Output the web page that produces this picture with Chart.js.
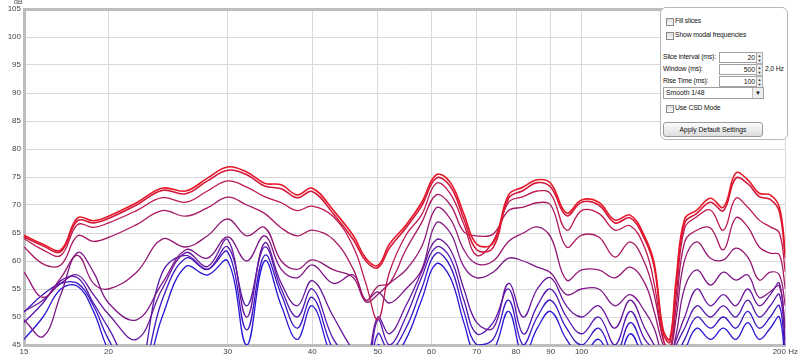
<!DOCTYPE html>
<html>
<head>
<meta charset="utf-8">
<script src="https://cdn.jsdelivr.net/npm/chart.js@4/dist/chart.umd.min.js"></script>
<style>
  body { margin: 0; background: #fff; }
  #wrap { position: relative; width: 800px; height: 357px; overflow: hidden; font-family: "Liberation Sans", Arial, sans-serif; }
  #db { position: absolute; left: 14px; top: -2px; font-size: 7px; line-height: 8px; color: #444; }
  #panel { position: absolute; left: 660px; top: 7px; width: 126px; height: 131px; border: 1px solid #b8b8b8; border-radius: 6px; background: #fff; font-size: 6.8px; color: #111; }
  #panel .cb { position: absolute; left: 5px; width: 6px; height: 6px; border: 1px solid #8a8a8a; background: linear-gradient(#ddd, #fafafa); }
  #panel .lbl { position: absolute; white-space: nowrap; letter-spacing: -0.15px; }
  #panel .inp { position: absolute; left: 58px; width: 35px; height: 9px; border: 1px solid #a0a0a0; text-align: right; line-height: 9px; padding-right: 1px; background: #fff; }
  #panel .spin { position: absolute; left: 95px; width: 5px; height: 10px; border: 1px solid #b0b0b0; background: #eee; font-size: 4px; line-height: 5px; text-align: center; color: #333; }
  #sel { position: absolute; left: 2px; top: 79px; width: 97px; height: 10px; border: 1px solid #a0a0a0; line-height: 10px; padding-left: 2px; }
  #sel .arr { position: absolute; right: 0; top: 0; width: 10px; height: 10px; border-left: 1px solid #c0c0c0; background: #eee; font-size: 6px; text-align: center; }
  #btn { position: absolute; left: 2px; top: 114px; width: 98px; height: 13px; border: 1px solid #999; border-radius: 3px; background: linear-gradient(#fdfdfd, #dcdcdc); text-align: center; line-height: 13px; }
</style>
</head>
<body>
<div id="wrap">
  <canvas id="chart" width="800" height="357"></canvas>
  <div id="db">dB</div>
  <div id="panel">
    <div class="cb" style="top:10px"></div><div class="lbl" style="left:14px;top:9px">Fill slices</div>
    <div class="cb" style="top:24px"></div><div class="lbl" style="left:14px;top:23px">Show modal frequencies</div>
    <div class="lbl" style="left:2px;top:45px">Slice interval (ms):</div>
    <div class="inp" style="top:44px">20</div><div class="spin" style="top:44px">▲<br>▼</div>
    <div class="lbl" style="left:2px;top:57px">Window (ms):</div>
    <div class="inp" style="top:56px">500</div><div class="spin" style="top:56px">▲<br>▼</div>
    <div class="lbl" style="left:104px;top:57px">2,0 Hz</div>
    <div class="lbl" style="left:2px;top:69px">Rise Time (ms):</div>
    <div class="inp" style="top:68px">100</div><div class="spin" style="top:68px">▲<br>▼</div>
    <div id="sel">Smooth 1/48<div class="arr">▼</div></div>
    <div class="cb" style="top:97px"></div><div class="lbl" style="left:14px;top:96px">Use CSD Mode</div>
    <div id="btn">Apply Default Settings</div>
  </div>
</div>
<script>
// frequency points (Hz) shared by all slices
var freqs = [15, 16, 17, 18, 19, 20, 22, 24, 26, 28, 30, 32, 34, 36, 38, 40, 43, 46, 48, 50,
  52, 55, 58, 61, 64, 67, 70, 74, 78, 82, 86, 90, 95, 100, 106, 112, 118, 124, 128, 132,
  135, 138, 142, 148, 155, 162, 169, 176, 183, 190, 196, 200];

var sliceTimes = [0, 20, 40, 60, 80, 100, 120, 140, 160, 180];

// dB per slice
var slice0 = [64.6, 63.0, 62.0, 67.7, 67.2, 68.0, 70.4, 73.0, 72.5, 74.8, 76.8, 75.9, 73.9, 73.6, 71.8, 73.0, 69.0, 64.5, 60.5, 59.2,
  63.0, 66.4, 70.4, 75.4, 74.0, 68.4, 63.0, 63.2, 71.8, 73.2, 74.5, 73.9, 68.6, 70.9, 70.5, 67.3, 68.2, 64.3, 59.6, 47.7,
  46.0, 57.0, 67.5, 69.1, 71.2, 69.6, 75.7, 74.5, 72.1, 71.8, 69.6, 61.4];
var slice1 = [64.3, 62.7, 61.7, 67.2, 66.8, 67.6, 70.0, 72.6, 72.0, 74.3, 76.2, 75.4, 73.4, 72.9, 71.3, 72.4, 68.4, 63.8, 60.0, 58.8,
  62.3, 65.9, 69.8, 74.8, 73.3, 67.5, 62.0, 62.4, 71.2, 72.6, 74.0, 73.2, 68.1, 70.5, 70.0, 66.8, 67.7, 63.8, 59.0, 47.0,
  45.5, 56.0, 66.8, 68.5, 70.5, 69.0, 74.8, 73.8, 71.5, 71.0, 68.8, 60.5];
var slice2 = [64.0, 62.0, 61.0, 66.5, 66.0, 66.8, 69.0, 71.3, 70.5, 72.5, 74.3, 73.2, 71.5, 70.4, 69.0, 69.8, 67.9, 62.5, 56.0, 49.5,
  58.0, 64.6, 68.2, 73.9, 72.0, 66.5, 61.0, 63.5, 70.5, 71.5, 72.5, 72.0, 65.5, 69.0, 68.5, 65.5, 66.3, 62.3, 56.0, 46.0,
  44.0, 54.0, 65.9, 67.9, 69.1, 65.5, 71.2, 69.6, 67.3, 66.1, 65.0, 58.0];
var slice3 = [62.5, 59.5, 59.3, 64.5, 63.5, 64.2, 66.5, 69.0, 68.0, 69.5, 71.4, 70.0, 68.5, 65.9, 64.5, 65.5, 63.8, 58.5, 53.0, 55.5,
  56.0, 62.0, 66.8, 71.8, 70.0, 65.2, 64.5, 64.8, 69.0, 69.6, 70.4, 70.0, 62.5, 64.6, 64.3, 60.7, 63.4, 59.6, 54.0, 46.0,
  44.0, 52.0, 63.4, 65.5, 65.9, 62.0, 67.7, 66.1, 62.5, 61.4, 61.1, 55.0];
var slice4 = [58.0, 53.5, 57.0, 61.0, 56.0, 55.0, 58.0, 63.9, 62.5, 64.5, 67.5, 64.5, 66.0, 60.0, 58.5, 60.2, 58.4, 57.0, 52.7, 54.0,
  56.0, 58.4, 62.5, 69.5, 67.5, 62.0, 59.5, 60.0, 63.5, 65.0, 66.1, 64.3, 56.6, 58.4, 58.4, 57.0, 58.9, 56.0, 51.0, 45.0,
  44.0, 50.0, 60.2, 63.4, 60.5, 60.2, 62.3, 60.7, 56.6, 58.0, 57.5, 52.0];
var slice5 = [49.5, 46.5, 54.0, 61.5, 58.0, 52.5, 49.5, 56.0, 62.0, 60.5, 64.3, 60.0, 64.5, 58.5, 57.0, 59.3, 56.0, 57.5, 53.0, 54.5,
  52.5, 55.0, 58.4, 66.8, 65.0, 59.0, 57.0, 58.0, 60.5, 60.0, 58.9, 57.9, 54.0, 55.0, 55.0, 52.0, 54.0, 51.0, 48.0, 43.0,
  43.0, 47.0, 55.2, 58.4, 55.7, 58.0, 56.6, 57.5, 53.5, 54.5, 55.5, 48.0];
var slice6 = [51.0, 53.0, 56.0, 57.5, 54.0, 50.5, 46.0, 55.0, 61.5, 59.0, 63.8, 50.0, 63.2, 56.0, 52.0, 56.5, 50.0, 44.0, 42.0, 50.0,
  47.0, 52.0, 58.0, 63.8, 62.0, 55.0, 49.0, 48.0, 56.0, 50.0, 55.0, 57.0, 52.0, 50.0, 52.0, 48.0, 53.0, 48.0, 45.0, 42.0,
  43.0, 46.0, 50.0, 55.0, 52.0, 54.0, 52.0, 55.0, 52.0, 54.0, 56.0, 46.0];
var slice7 = [49.0, 52.5, 56.5, 57.0, 52.5, 48.0, 40.0, 57.9, 61.0, 58.5, 62.5, 52.0, 62.5, 55.0, 50.0, 55.0, 46.0, 42.0, 40.0, 49.5,
  45.0, 50.0, 57.0, 62.5, 60.5, 53.0, 47.0, 49.0, 55.0, 47.0, 52.0, 55.0, 50.0, 47.0, 50.0, 45.0, 51.0, 46.0, 44.0, 41.0,
  42.0, 45.0, 48.0, 52.0, 50.0, 52.0, 50.0, 53.0, 50.0, 52.0, 54.0, 45.0];
var slice8 = [50.9, 54.0, 56.0, 56.0, 52.0, 46.0, 38.0, 53.0, 60.5, 58.5, 61.6, 47.7, 61.0, 54.0, 48.0, 53.5, 44.0, 40.0, 38.0, 47.0,
  44.0, 48.0, 55.0, 61.4, 59.0, 51.0, 45.0, 46.0, 53.0, 45.0, 50.0, 53.0, 48.0, 45.0, 48.0, 43.0, 49.0, 44.0, 42.0, 40.0,
  41.0, 43.0, 46.0, 50.0, 48.0, 50.0, 48.0, 51.0, 48.0, 50.0, 52.0, 43.0];
var slice9 = [46.0, 50.0, 55.0, 55.5, 51.0, 44.0, 36.0, 50.0, 59.0, 57.5, 60.0, 45.0, 60.0, 52.0, 46.0, 52.0, 42.0, 38.0, 36.0, 45.0,
  42.0, 46.0, 53.0, 59.5, 57.0, 49.0, 43.0, 44.0, 51.0, 43.0, 48.0, 51.0, 46.0, 43.0, 46.0, 41.0, 47.0, 42.0, 40.0, 38.0,
  39.0, 41.0, 44.0, 48.0, 46.0, 48.0, 46.0, 49.0, 46.0, 48.0, 50.0, 41.0];

var xTicks = [15, 20, 30, 40, 50, 60, 70, 80, 90, 100, 200];
var yMin = 45, yMax = 105, yStep = 5;

var slices = [slice0, slice1, slice2, slice3, slice4, slice5, slice6, slice7, slice8, slice9];

// red -> purple -> blue
function sliceColor(i) {
  var t = i / (slices.length - 1);
  var r = Math.round(232 + (40 - 232) * t);
  var g = Math.round(24 + (22 - 24) * t);
  var b = Math.round(40 + (214 - 40) * t);
  return "rgb(" + r + "," + g + "," + b + ")";
}

var datasets = slices.map(function (s, i) {
  return {
    label: sliceTimes[i] + " ms",
    data: freqs.map(function (f, j) { return { x: f, y: s[j] }; }),
    borderColor: sliceColor(i),
    borderWidth: i < 2 ? 1.6 : 1.3,
    pointRadius: 0,
    tension: 0.4,
    clip: 0
  };
});

new Chart(document.getElementById("chart"), {
  type: "line",
  data: { datasets: datasets },
  options: {
    responsive: false,
    animation: false,
    layout: { padding: { top: 9, right: 10, left: 0, bottom: 0 } },
    plugins: { legend: { display: false }, tooltip: { enabled: false } },
    scales: {
      x: {
        type: "logarithmic",
        min: 15,
        max: 200,
        afterBuildTicks: function (scale) {
          scale.ticks = xTicks.map(function (v) { return { value: v }; });
        },
        afterFit: function (scale) { scale.height = 12; },
        ticks: {
          autoSkip: false,
          maxRotation: 0,
          padding: 2,
          color: "#444",
          font: { family: "Liberation Sans", size: 8 },
          callback: function (v) { return v === 200 ? "200 Hz" : String(v); }
        },
        grid: { color: "#d9d9d9", drawTicks: false },
        border: { color: "#bdbdbd", width: 3 }
      },
      y: {
        min: yMin,
        max: yMax,
        afterFit: function (scale) { scale.width = 24; },
        ticks: {
          stepSize: yStep,
          padding: 3,
          color: "#444",
          font: { family: "Liberation Sans", size: 8 }
        },
        grid: {
          color: function (c) { return c.tick && c.tick.value === yMax ? "#bdbdbd" : "#d9d9d9"; },
          lineWidth: function (c) { return c.tick && c.tick.value === yMax ? 3 : 1; },
          drawTicks: false
        },
        border: { color: "#bdbdbd", width: 3 }
      }
    }
  }
});
</script>
</body>
</html>
